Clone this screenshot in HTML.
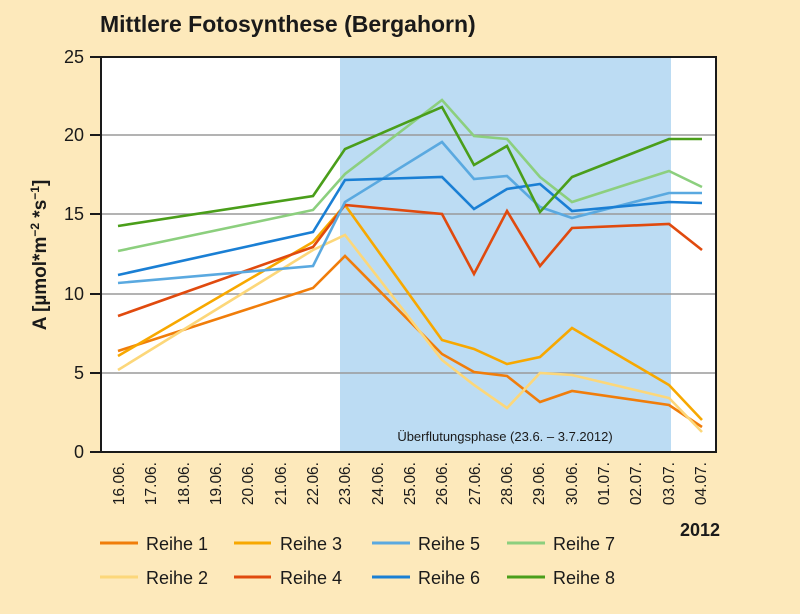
<!DOCTYPE html>
<html><head><meta charset="utf-8"><style>
html,body{margin:0;padding:0;background:#fde9bb;}
svg{display:block;font-family:"Liberation Sans",sans-serif;}
</style></head><body>
<svg width="800" height="614" viewBox="0 0 800 614">
<rect width="800" height="614" fill="#fde9bb"/>
<text x="100" y="32" font-size="23" font-weight="bold" fill="#1a1a1a">Mittlere Fotosynthese (Bergahorn)</text>
<text transform="translate(46,255) rotate(-90)" text-anchor="middle" font-size="19" font-weight="bold" fill="#1a1a1a">A [µmol*m<tspan font-size="12" dy="-7">−2</tspan><tspan dy="7"> *s</tspan><tspan font-size="12" dy="-7">−1</tspan><tspan dy="7">]</tspan></text>
<rect x="101" y="57" width="615" height="395" fill="#fff"/>
<rect x="340" y="57" width="331" height="395" fill="#bcdcf3"/>
<g stroke="#9a9a9a" stroke-width="1.5">
<line x1="101" y1="135" x2="716" y2="135"/><line x1="101" y1="214" x2="716" y2="214"/>
<line x1="101" y1="294" x2="716" y2="294"/><line x1="101" y1="373" x2="716" y2="373"/>
</g>
<text x="505" y="441" text-anchor="middle" font-size="13" fill="#1a1a1a">Überflutungsphase (23.6. – 3.7.2012)</text>
<g fill="none" stroke-width="2.6" stroke-linejoin="miter">
<polyline stroke="#f07d0a" points="118,351 313,288 345,256 442,354 474,372 507,376 540,402 572,391 669,405 702,427"/>
<polyline stroke="#fcd77a" points="118,370 313,250 345,235 442,360 474,385 507,408 540,373 572,375 669,398 702,432"/>
<polyline stroke="#f7a800" points="118,356 313,242 345,205 442,340 474,349 507,364 540,357 572,328 669,385 702,420"/>
<polyline stroke="#e04a0e" points="118,316 313,247 345,205 442,214 474,274 507,211 540,266 572,228 669,224 702,250"/>
<polyline stroke="#5aa9e0" points="118,283 313,266 345,202 442,142 474,179 507,176 540,207 572,218 669,193 702,193"/>
<polyline stroke="#1a7fd4" points="118,275 313,232 345,180 442,177 474,209 507,189 540,184 572,211 669,202 702,203"/>
<polyline stroke="#8ccf7e" points="118,251 313,210 345,174 442,100 474,136 507,139 540,177 572,202 669,171 702,187"/>
<polyline stroke="#4a9e1a" points="118,226 313,196 345,149 442,107 474,165 507,146 540,212 572,177 669,139 702,139"/>
</g>
<rect x="101" y="57" width="615" height="395" fill="none" stroke="#1a1a1a" stroke-width="2"/>
<g stroke="#1a1a1a" stroke-width="2">
<line x1="90" y1="57" x2="101" y2="57"/><line x1="90" y1="135" x2="101" y2="135"/><line x1="90" y1="214" x2="101" y2="214"/>
<line x1="90" y1="294" x2="101" y2="294"/><line x1="90" y1="373" x2="101" y2="373"/><line x1="90" y1="452" x2="101" y2="452"/>
</g>
<g font-size="18" fill="#1a1a1a" text-anchor="end">
<text x="84" y="63">25</text><text x="84" y="141">20</text><text x="84" y="220">15</text>
<text x="84" y="300">10</text><text x="84" y="379">5</text><text x="84" y="458">0</text>
</g>
<g font-size="15.5" fill="#1a1a1a" text-anchor="end">
<text transform="translate(124,462) rotate(-90)">16.06.</text>
<text transform="translate(156,462) rotate(-90)">17.06.</text>
<text transform="translate(189,462) rotate(-90)">18.06.</text>
<text transform="translate(221,462) rotate(-90)">19.06.</text>
<text transform="translate(253,462) rotate(-90)">20.06.</text>
<text transform="translate(286,462) rotate(-90)">21.06.</text>
<text transform="translate(318,462) rotate(-90)">22.06.</text>
<text transform="translate(350,462) rotate(-90)">23.06.</text>
<text transform="translate(383,462) rotate(-90)">24.06.</text>
<text transform="translate(415,462) rotate(-90)">25.06.</text>
<text transform="translate(447,462) rotate(-90)">26.06.</text>
<text transform="translate(480,462) rotate(-90)">27.06.</text>
<text transform="translate(512,462) rotate(-90)">28.06.</text>
<text transform="translate(544,462) rotate(-90)">29.06.</text>
<text transform="translate(577,462) rotate(-90)">30.06.</text>
<text transform="translate(609,462) rotate(-90)">01.07.</text>
<text transform="translate(641,462) rotate(-90)">02.07.</text>
<text transform="translate(674,462) rotate(-90)">03.07.</text>
<text transform="translate(706,462) rotate(-90)">04.07.</text>
</g>
<text x="720" y="536" text-anchor="end" font-size="18" font-weight="bold" fill="#1a1a1a">2012</text>
<g stroke-width="3">
<line x1="100" y1="543" x2="138" y2="543" stroke="#f07d0a"/>
<line x1="100" y1="577" x2="138" y2="577" stroke="#fcd77a"/>
<line x1="234" y1="543" x2="271" y2="543" stroke="#f7a800"/>
<line x1="234" y1="577" x2="271" y2="577" stroke="#e04a0e"/>
<line x1="372" y1="543" x2="410" y2="543" stroke="#5aa9e0"/>
<line x1="372" y1="577" x2="410" y2="577" stroke="#1a7fd4"/>
<line x1="507" y1="543" x2="545" y2="543" stroke="#8ccf7e"/>
<line x1="507" y1="577" x2="545" y2="577" stroke="#4a9e1a"/>
</g>
<g font-size="18" fill="#1a1a1a">
<text x="146" y="550">Reihe 1</text><text x="146" y="584">Reihe 2</text>
<text x="280" y="550">Reihe 3</text><text x="280" y="584">Reihe 4</text>
<text x="418" y="550">Reihe 5</text><text x="418" y="584">Reihe 6</text>
<text x="553" y="550">Reihe 7</text><text x="553" y="584">Reihe 8</text>
</g>
</svg>
</body></html>
